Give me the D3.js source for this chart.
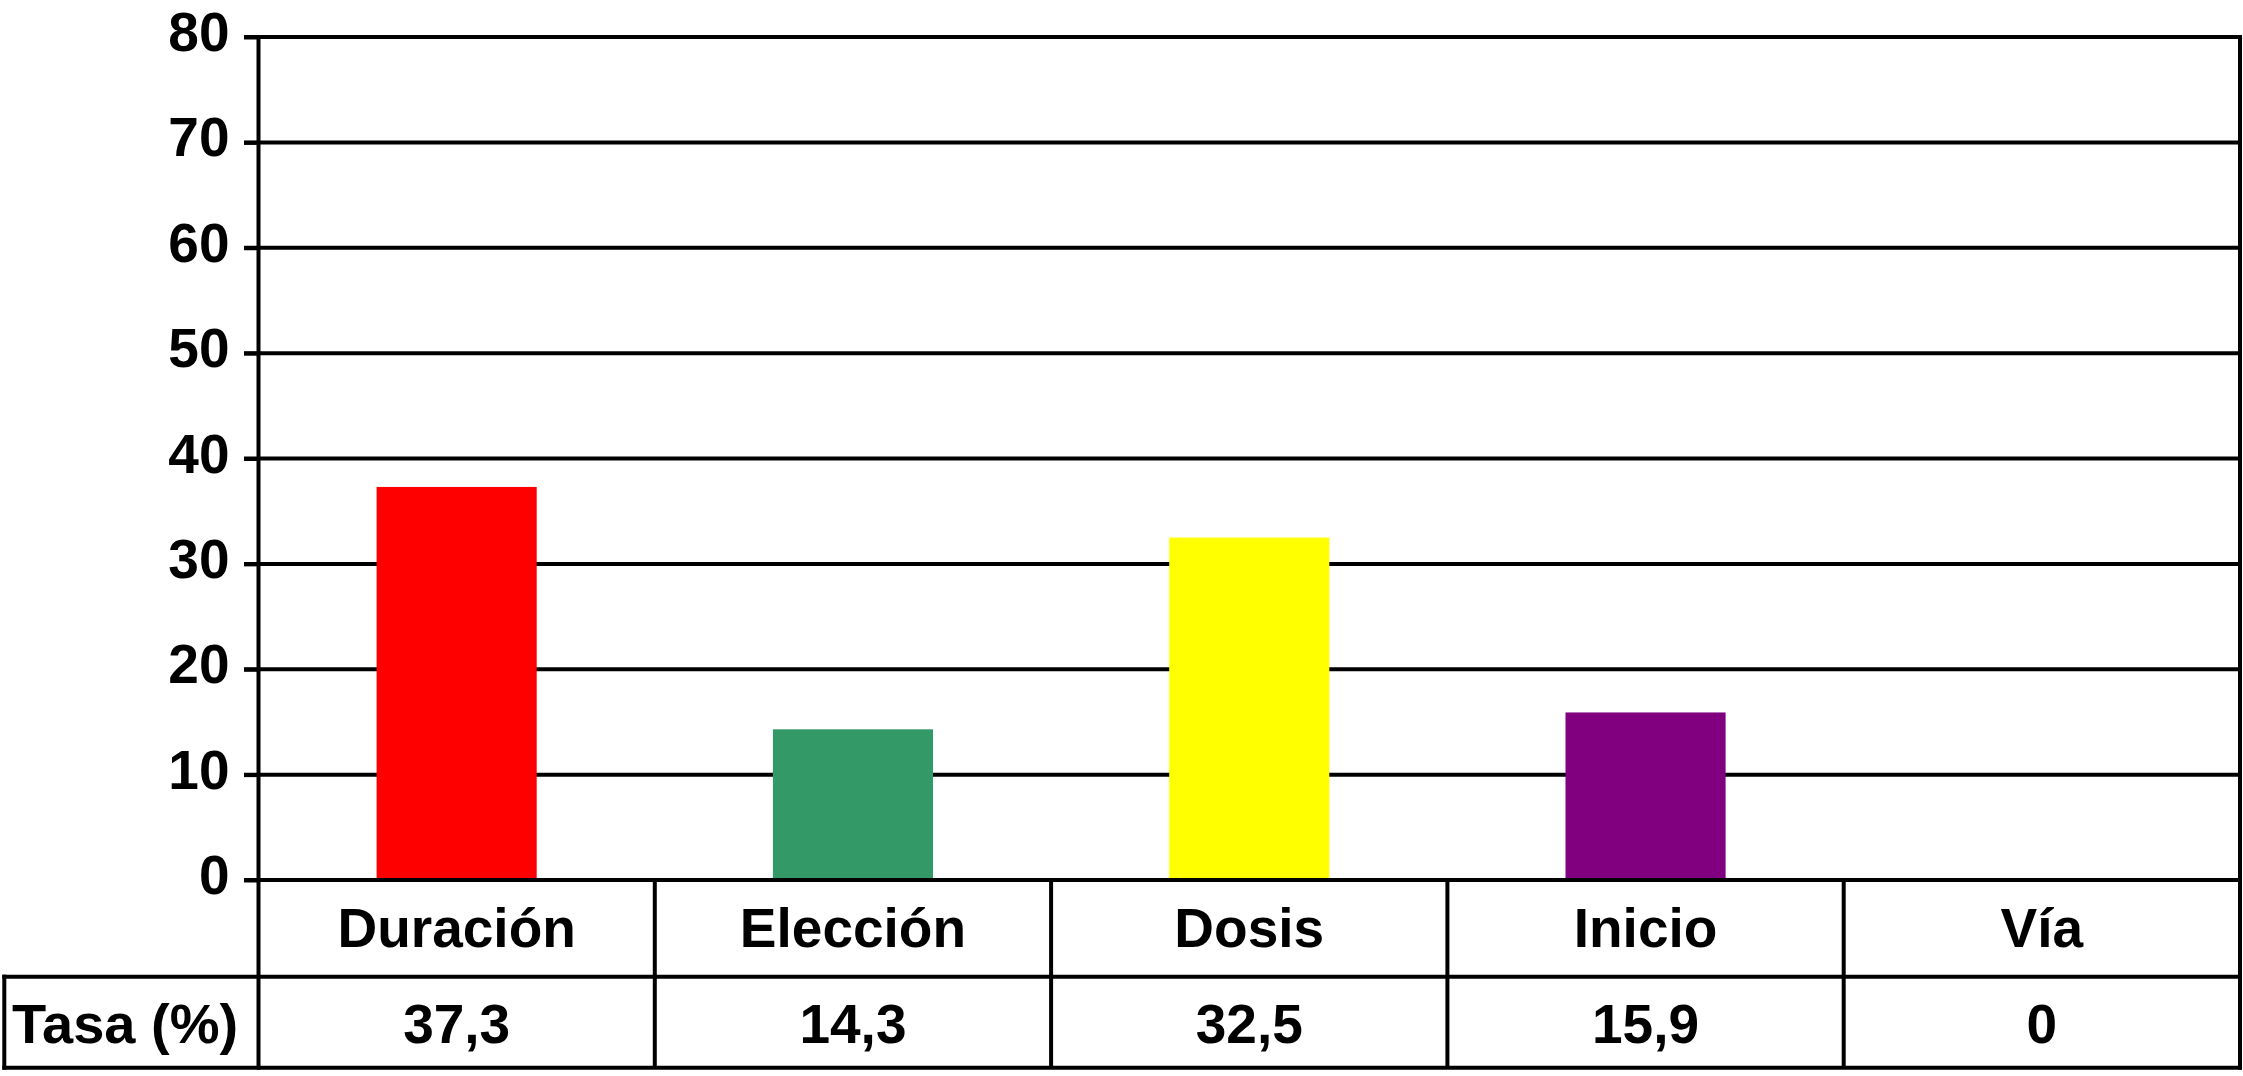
<!DOCTYPE html>
<html>
<head>
<meta charset="utf-8">
<script src="https://cdn.jsdelivr.net/npm/d3@7"></script>
<style>
  html, body { margin: 0; padding: 0; background: #ffffff; }
  svg { display: block; }
  text { font-family: "Liberation Sans", Arial, Helvetica, sans-serif; font-weight: bold; fill: #000; }
</style>
</head>
<body>
<svg id="chart" width="2243" height="1076"></svg>
<script>
// ---- data ----
const categories = ["Duración", "Elección", "Dosis", "Inicio", "Vía"];
const values = [37.3, 14.3, 32.5, 15.9, 0];
const valueLabels = ["37,3", "14,3", "32,5", "15,9", "0"];
const rowLabel = "Tasa (%)";
const barColors = ["#ff0000", "#339966", "#ffff00", "#800080", "#cccccc"];
const yTicks = [0, 10, 20, 30, 40, 50, 60, 70, 80];

// ---- layout ----
const plotLeft = 258.5, plotRight = 2240;
const plotTop = 37, plotBottom = 880;
const tableMid = 976.7, tableBottom = 1067.7, tableLeft = 4.3;
const tickLeft = 244;
const lw = 4;
const fontSize = 55;

const svg = d3.select("#chart");

const x = d3.scaleBand().domain(categories).range([plotLeft, plotRight]).padding(0);
const y = d3.scaleLinear().domain([0, 80]).range([plotBottom, plotTop]);
const barFrac = 0.404;

// gridlines
svg.append("g").selectAll("line").data(yTicks.filter(d => d !== 0)).join("line")
  .attr("x1", tickLeft).attr("x2", plotRight)
  .attr("y1", d => y(d)).attr("y2", d => y(d))
  .attr("stroke", "#000").attr("stroke-width", lw);

// bars
svg.append("g").selectAll("rect").data(categories).join("rect")
  .attr("x", d => x(d) + x.bandwidth() * (1 - barFrac) / 2)
  .attr("width", x.bandwidth() * barFrac)
  .attr("y", (d, i) => y(values[i]))
  .attr("height", (d, i) => y(0) - y(values[i]))
  .attr("fill", (d, i) => barColors[i]);

// y axis (ticks + labels)
const axis = d3.axisLeft(y).tickValues(yTicks).tickSizeInner(plotLeft - tickLeft).tickSizeOuter(0).tickPadding(14.5);
const ax = svg.append("g").attr("transform", `translate(${plotLeft},0)`).call(axis);
ax.select(".domain").remove();
ax.selectAll(".tick line").attr("stroke", "#000").attr("stroke-width", lw);
ax.selectAll(".tick text")
  .attr("dy", null).attr("y", 13.5)
  .style("font-size", fontSize + "px")
  .style("font-family", '"Liberation Sans", Arial, sans-serif')
  .style("font-weight", "bold")
  .attr("fill", "#000");

// frame lines
const lines = [
  [tickLeft, plotBottom, plotRight, plotBottom],
  [plotLeft, plotTop - lw/2, plotLeft, tableBottom + lw/2],
  [plotRight, plotTop - lw/2, plotRight, tableBottom + lw/2],
  [tableLeft - lw/2, tableMid, plotRight, tableMid],
  [tableLeft - lw/2, tableBottom, plotRight + lw/2, tableBottom],
  [tableLeft, tableMid - lw/2, tableLeft, tableBottom + lw/2]
];
svg.append("g").selectAll("line").data(lines).join("line")
  .attr("x1", d => d[0]).attr("y1", d => d[1]).attr("x2", d => d[2]).attr("y2", d => d[3])
  .attr("stroke", "#000").attr("stroke-width", lw);

// column dividers
svg.append("g").selectAll("line").data(categories.slice(1)).join("line")
  .attr("x1", d => x(d)).attr("x2", d => x(d))
  .attr("y1", plotBottom).attr("y2", tableBottom)
  .attr("stroke", "#000").attr("stroke-width", lw);

// category labels
svg.append("g").selectAll("text").data(categories).join("text")
  .attr("x", d => x(d) + x.bandwidth() / 2)
  .attr("y", 946.5)
  .attr("text-anchor", "middle")
  .style("font-size", fontSize + "px")
  .text(d => d);

// value labels
svg.append("g").selectAll("text").data(valueLabels).join("text")
  .attr("x", (d, i) => x(categories[i]) + x.bandwidth() / 2)
  .attr("y", 1043)
  .attr("text-anchor", "middle")
  .style("font-size", fontSize + "px")
  .text(d => d);

// row label
svg.append("text")
  .attr("x", 12)
  .attr("y", 1043)
  .attr("text-anchor", "start")
  .style("font-size", "56px")
  .text(rowLabel);
</script>
</body>
</html>
